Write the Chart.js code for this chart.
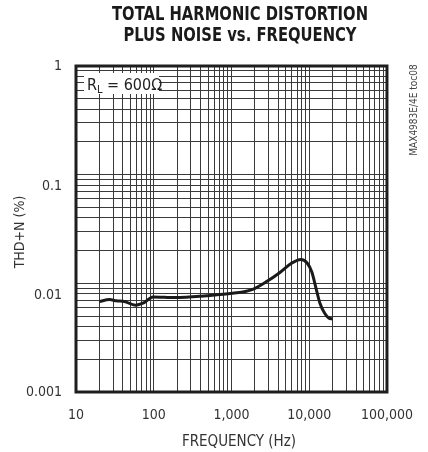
<!DOCTYPE html>
<html><head><meta charset="utf-8">
<script src="https://cdn.jsdelivr.net/npm/chart.js@4.4.0/dist/chart.umd.min.js"></script>
<style>html,body{margin:0;padding:0;background:#fff;}#wrap{width:428px;height:452px;}</style>
</head><body><div id="wrap"><canvas id="c" width="428" height="452"></canvas></div>
<script>
const titleLines = ['TOTAL HARMONIC DISTORTION', 'PLUS NOISE vs. FREQUENCY'];
const xAxisTitle = 'FREQUENCY (Hz)';
const yAxisTitle = 'THD+N (%)';
const sideNote = 'MAX4983E/4E toc08';
const legendMain = 'R';
const legendSub = 'L';
const legendRest = ' = 600Ω';
const xTickValues = [10, 100, 1000, 10000, 100000];
const xTickLabels = ['10', '100', '1,000', '10,000', '100,000'];
const yTickValues = [0.001, 0.01, 0.1, 1];
const yTickLabels = ['0.001', '0.01', '0.1', '1'];
const freqHz = [20, 27, 33, 42, 58, 74, 98, 190, 480, 1030, 1800, 2900, 4200, 5900, 7800, 9400, 10800, 12100, 13700, 15800, 17800, 20000];
const thdn = [0.0068, 0.0071, 0.0069, 0.0068, 0.0063, 0.0066, 0.0075, 0.0074, 0.0077, 0.0081, 0.0087, 0.0105, 0.0126, 0.0153, 0.0166, 0.0154, 0.0127, 0.0093, 0.0066, 0.0053, 0.0048, 0.0047];

const FONT = "'DejaVu Sans Condensed','Liberation Sans',sans-serif";

function gridTicks(decades) {
  const out = [];
  for (let i = 0; i < decades.length; i++) {
    const d = decades[i];
    if (i === decades.length - 1) { out.push({value: d}); break; }
    for (let k = 1; k <= 9; k++) out.push({value: d * k});
  }
  return out;
}
function labelFor(value, vals, labels) {
  for (let i = 0; i < vals.length; i++) {
    if (Math.abs(value - vals[i]) / vals[i] < 1e-6) return labels[i];
  }
  return '';
}
// in the reference the inner y labels sit a little below their grid lines
function yLabel(value) {
  const t = labelFor(value, yTickValues, yTickLabels);
  if (t && value > yTickValues[0] && value < yTickValues[yTickValues.length - 1]) return ['', t];
  return t;
}

const decor = {
  id: 'decor',
  afterDraw(chart) {
    const ctx = chart.ctx, a = chart.chartArea;
    ctx.save();
    ctx.strokeStyle = '#1e1e1e';
    ctx.lineWidth = 3;
    ctx.strokeRect(a.left, a.top, a.right - a.left, a.bottom - a.top);
    ctx.fillStyle = '#fff';
    ctx.fillRect(84, 73, 75, 21);
    ctx.fillStyle = '#222';
    ctx.textBaseline = 'alphabetic';
    ctx.textAlign = 'left';
    ctx.font = '16px ' + FONT;
    let x = 87;
    ctx.fillText(legendMain, x, 90);
    x += ctx.measureText(legendMain).width;
    ctx.font = '11px ' + FONT;
    ctx.fillText(legendSub, x, 93);
    x += ctx.measureText(legendSub).width;
    ctx.font = '16px ' + FONT;
    ctx.fillText(legendRest, x, 90);
    ctx.fillStyle = '#1a1a1a';
    ctx.textAlign = 'center';
    ctx.textBaseline = 'middle';
    ctx.font = 'bold 20px ' + FONT;
    const sx = 256 / ctx.measureText(titleLines[0]).width;
    [[titleLines[0], 15], [titleLines[1], 36]].forEach(([t, y]) => {
      ctx.save();
      ctx.translate(240, y);
      ctx.scale(sx, 1);
      ctx.fillText(t, 0, 0);
      ctx.restore();
    });
    ctx.fillStyle = '#333';
    ctx.font = '15px ' + FONT;
    ctx.fillText(xAxisTitle, 239, 442);
    ctx.save();
    ctx.translate(20, 232);
    ctx.rotate(-Math.PI / 2);
    ctx.font = '14px ' + FONT;
    ctx.fillText(yAxisTitle, 0, 0);
    ctx.restore();
    ctx.save();
    ctx.translate(414, 110);
    ctx.rotate(-Math.PI / 2);
    ctx.font = '10px ' + FONT;
    ctx.fillStyle = '#444';
    ctx.fillText(sideNote, 0, 0);
    ctx.restore();
    ctx.restore();
  }
};

new Chart(document.getElementById('c'), {
  type: 'line',
  data: {
    datasets: [{
      data: freqHz.map((f, i) => ({x: f, y: thdn[i]})),
      borderColor: '#1a1a1a',
      borderWidth: 3,
      pointRadius: 0,
      tension: 0.4,
      cubicInterpolationMode: 'monotone',
      fill: false
    }]
  },
  options: {
    responsive: false,
    devicePixelRatio: 1,
    animation: false,
    layout: {padding: {top: 66, right: 26, left: 0, bottom: 0}},
    plugins: {legend: {display: false}, tooltip: {enabled: false}, title: {display: false}},
    scales: {
      x: {
        type: 'logarithmic',
        min: 10, max: 100000,
        afterBuildTicks: s => { s.ticks = gridTicks(xTickValues); },
        afterFit: s => { s.height = 60; },
        grid: {color: '#3a3a3a', lineWidth: 1, drawTicks: false},
        border: {display: false},
        ticks: {
          autoSkip: false, maxRotation: 0, minRotation: 0, padding: 15,
          color: '#333', font: {family: FONT, size: 14},
          callback: v => labelFor(v, xTickValues, xTickLabels)
        }
      },
      y: {
        type: 'logarithmic',
        min: 0.001, max: 1,
        afterBuildTicks: s => { s.ticks = gridTicks(yTickValues); },
        afterFit: s => { s.width = 76; },
        grid: {color: '#3a3a3a', lineWidth: 1, drawTicks: false},
        border: {display: false},
        ticks: {
          autoSkip: false, padding: 14,
          color: '#333', font: {family: FONT, size: 14, lineHeight: 1.7},
          callback: v => yLabel(v)
        }
      }
    }
  },
  plugins: [decor]
});
</script></body></html>
